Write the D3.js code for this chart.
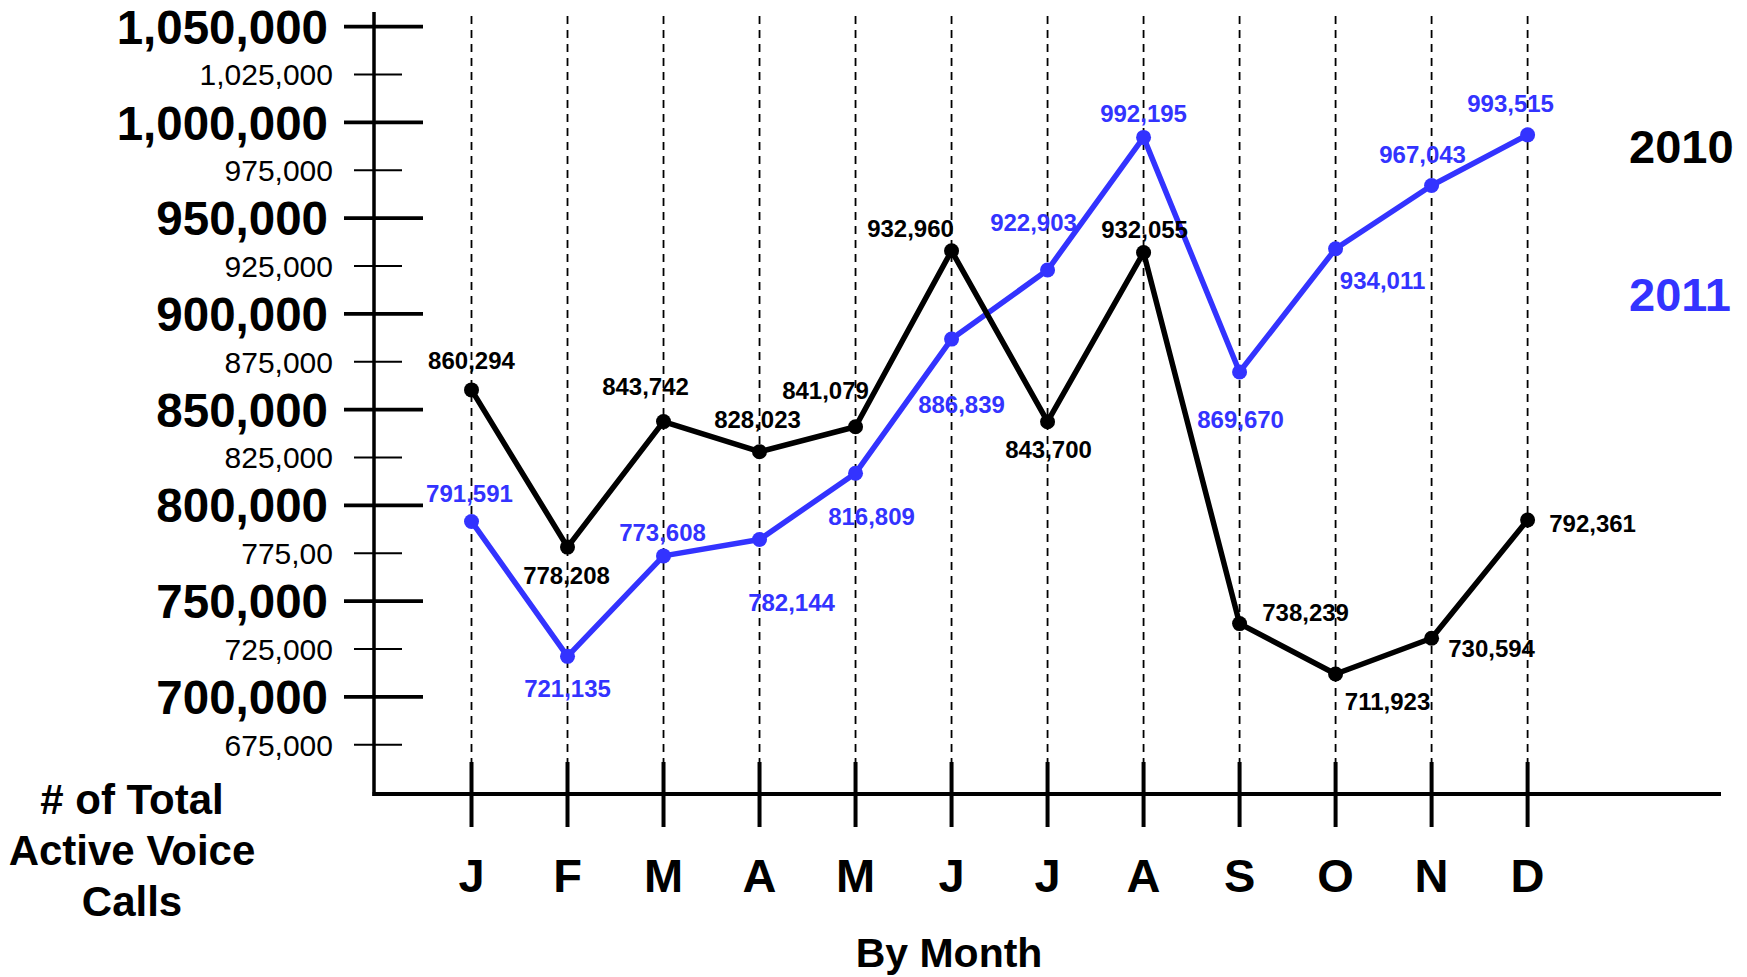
<!DOCTYPE html>
<html>
<head>
<meta charset="utf-8">
<script src="https://cdn.jsdelivr.net/npm/d3@7"></script>
<style>
  html, body { margin: 0; padding: 0; background: #fff; }
  svg { display: block; }
  text { font-family: "Liberation Sans", Arial, Helvetica, sans-serif; }
</style>
</head>
<body>
<svg id="chart" width="1747" height="977"></svg>
<script>
// Monthly totals of active voice calls, 2010 vs 2011
const months = ["J", "F", "M", "A", "M", "J", "J", "A", "S", "O", "N", "D"];
const calls2010 = [860294, 778208, 843742, 828023, 841079, 932960, 843700, 932055, 738239, 711923, 730594, 792361];
const calls2011 = [791591, 721135, 773608, 782144, 816809, 886839, 922903, 992195, 869670, 934011, 967043, 993515];

// Y axis: bold major ticks every 50,000 and lighter minor ticks in between
const majorTicks = [700000, 750000, 800000, 850000, 900000, 950000, 1000000, 1050000];
const majorTickLabels = ["700,000", "750,000", "800,000", "850,000", "900,000", "950,000", "1,000,000", "1,050,000"];
const minorTicks = [675000, 725000, 775000, 825000, 875000, 925000, 975000, 1025000];
const minorTickLabels = ["675,000", "725,000", "775,00", "825,000", "875,000", "925,000", "975,000", "1,025,000"];

const seriesNames = ["2010", "2011"];

// Where each value label sits relative to its point (dx, dy in px)
const labelOffsets2010 = [[0, -30], [-1, 28], [-18, -35], [-2, -32], [-30, -36], [-41, -22],
                          [1, 28], [1, -23], [66, -11], [52, 27], [60, 10], [65, 3]];
const labelOffsets2011 = [[-2, -28], [0, 32], [-1, -24], [32, 63], [16, 43], [10, 65],
                          [-14, -48], [0, -24], [1, 47], [47, 32], [-9, -31], [-17, -31]];

const BLACK = "#000000";
const BLUE = "#3333ff";

const svg = d3.select("#chart");

const x = d3.scaleLinear().domain([0, months.length - 1]).range([471.5, 1527.6]);
const y = d3.scaleLinear().domain([675000, 1050000]).range([744.7, 26.7]);

const axisX = 374;      // vertical axis position
const baseY = 794;      // horizontal axis position
const fmt = d3.format(",");

// Dashed month guides
svg.append("g")
  .selectAll("line")
  .data(months)
  .join("line")
  .attr("x1", (d, i) => x(i)).attr("x2", (d, i) => x(i))
  .attr("y1", 16).attr("y2", 762)
  .attr("stroke", BLACK)
  .attr("stroke-width", 1.8)
  .attr("stroke-dasharray", "8,6");

// Axes
svg.append("line")
  .attr("x1", axisX).attr("x2", axisX)
  .attr("y1", 12).attr("y2", baseY + 2)
  .attr("stroke", BLACK).attr("stroke-width", 3.5);
svg.append("line")
  .attr("x1", axisX - 1.5).attr("x2", 1721)
  .attr("y1", baseY).attr("y2", baseY)
  .attr("stroke", BLACK).attr("stroke-width", 4);

// Y ticks crossing the axis
const yMajor = svg.append("g");
yMajor.selectAll("line")
  .data(majorTicks)
  .join("line")
  .attr("x1", axisX - 30).attr("x2", axisX + 49)
  .attr("y1", d => y(d)).attr("y2", d => y(d))
  .attr("stroke", BLACK).attr("stroke-width", 3.8);
yMajor.selectAll("text")
  .data(majorTicks)
  .join("text")
  .attr("x", 328)
  .attr("y", d => y(d))
  .attr("dy", "0.36em")
  .attr("text-anchor", "end")
  .attr("font-size", 47.5)
  .attr("font-weight", "bold")
  .attr("fill", BLACK)
  .text((d, i) => majorTickLabels[i]);

const yMinor = svg.append("g");
yMinor.selectAll("line")
  .data(minorTicks)
  .join("line")
  .attr("x1", axisX - 20).attr("x2", axisX + 28)
  .attr("y1", d => y(d)).attr("y2", d => y(d))
  .attr("stroke", BLACK).attr("stroke-width", 2);
yMinor.selectAll("text")
  .data(minorTicks)
  .join("text")
  .attr("x", 333)
  .attr("y", d => y(d))
  .attr("dy", "0.36em")
  .attr("text-anchor", "end")
  .attr("font-size", 30)
  .attr("fill", BLACK)
  .text((d, i) => minorTickLabels[i]);

// Month ticks and labels
const xTicks = svg.append("g");
xTicks.selectAll("line")
  .data(months)
  .join("line")
  .attr("x1", (d, i) => x(i)).attr("x2", (d, i) => x(i))
  .attr("y1", 762).attr("y2", 827)
  .attr("stroke", BLACK).attr("stroke-width", 4);
xTicks.selectAll("text")
  .data(months)
  .join("text")
  .attr("x", (d, i) => x(i))
  .attr("y", 892)
  .attr("text-anchor", "middle")
  .attr("font-size", 47)
  .attr("font-weight", "bold")
  .attr("fill", BLACK)
  .text(d => d);

// Axis titles
svg.append("text")
  .attr("x", 132)
  .attr("text-anchor", "middle")
  .attr("font-size", 42)
  .attr("font-weight", "bold")
  .attr("fill", BLACK)
  .selectAll("tspan")
  .data(["# of Total", "Active Voice", "Calls"])
  .join("tspan")
  .attr("x", 132)
  .attr("y", (d, i) => 814 + i * 51)
  .text(d => d);

svg.append("text")
  .attr("x", 949)
  .attr("y", 967)
  .attr("text-anchor", "middle")
  .attr("font-size", 41)
  .attr("font-weight", "bold")
  .attr("fill", BLACK)
  .text("By Month");

// Series lines, points and value labels
const line = d3.line().x((d, i) => x(i)).y(d => y(d));

function drawSeries(values, offsets, color) {
  const g = svg.append("g");
  g.append("path")
    .datum(values)
    .attr("d", line)
    .attr("fill", "none")
    .attr("stroke", color)
    .attr("stroke-width", 5.5)
    .attr("stroke-linejoin", "round");
  g.selectAll("circle")
    .data(values)
    .join("circle")
    .attr("cx", (d, i) => x(i))
    .attr("cy", d => y(d))
    .attr("r", 7.5)
    .attr("fill", color);
  g.selectAll("text")
    .data(values)
    .join("text")
    .attr("x", (d, i) => x(i) + offsets[i][0])
    .attr("y", (d, i) => y(d) + offsets[i][1])
    .attr("dy", "0.36em")
    .attr("text-anchor", "middle")
    .attr("font-size", 24)
    .attr("font-weight", "bold")
    .attr("fill", color)
    .text(d => fmt(d));
}

drawSeries(calls2011, labelOffsets2011, BLUE);
drawSeries(calls2010, labelOffsets2010, BLACK);

// Legend
svg.append("g")
  .selectAll("text")
  .data(seriesNames)
  .join("text")
  .attr("x", 1629)
  .attr("y", (d, i) => 163 + i * 148)
  .attr("font-size", 47)
  .attr("font-weight", "bold")
  .attr("fill", (d, i) => i === 0 ? BLACK : BLUE)
  .text(d => d);
</script>
</body>
</html>
